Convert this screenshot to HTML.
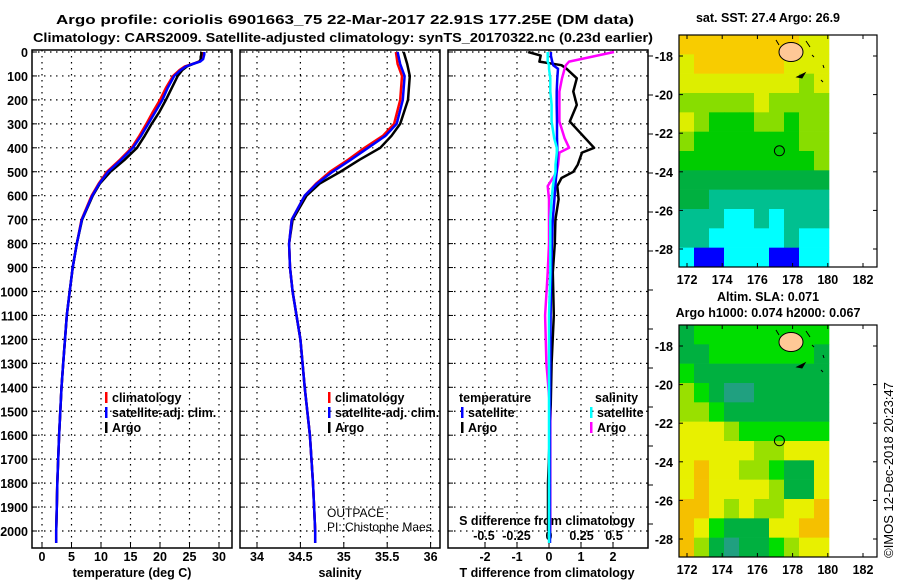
<!DOCTYPE html>
<html><head><meta charset="utf-8"><style>
body{margin:0;background:#fff;width:900px;height:580px;overflow:hidden}
svg text{font-family:"Liberation Sans",sans-serif}
.b{font-weight:bold;font-size:13px}
.t{font-weight:bold;font-size:12.5px}
</style></head><body>
<svg id="c" width="900" height="580" viewBox="0 0 900 580" xmlns="http://www.w3.org/2000/svg">
<text x="345" y="24" text-anchor="middle" class="b" textLength="578" lengthAdjust="spacingAndGlyphs">Argo profile: coriolis 6901663_75 22-Mar-2017 22.91S 177.25E (DM data)</text>
<text x="343" y="42" text-anchor="middle" class="b" textLength="620" lengthAdjust="spacingAndGlyphs">Climatology: CARS2009. Satellite-adjusted climatology: synTS_20170322.nc (0.23d earlier)</text>
<g id="g"></g>
</svg>
<script>
const depths=[0,10,20,30,40,50,60,75,100,150,200,250,300,350,400,450,500,550,600,700,800,900,1000,1100,1200,1300,1400,1500,1600,1700,1800,1900,2000,2050];
const tempClim=[27.2,27.2,27.1,27.0,26.6,25.5,24.2,23.3,22.2,21.0,20.0,18.8,17.7,16.5,15.2,13.2,11.0,9.6,8.4,6.7,5.9,5.2,4.7,4.2,3.9,3.6,3.3,3.1,2.9,2.75,2.6,2.5,2.4,2.4];
const tempSat=[27.5,27.5,27.4,27.3,26.8,25.5,24.4,23.5,22.4,21.3,20.4,19.2,18.0,16.8,15.4,13.4,11.2,9.7,8.5,6.75,5.9,5.2,4.7,4.2,3.9,3.6,3.3,3.1,2.9,2.75,2.6,2.5,2.4,2.4];
const tempArgo=[27.0,27.0,26.9,26.9,26.7,25.6,24.6,23.8,23.0,22.0,21.0,19.9,18.6,17.4,16.1,14.0,11.6,9.8,8.6,6.8,5.9,5.2,4.7,4.2,3.9,3.6,3.3,3.1,2.9,2.75,2.6,2.5,2.4,null];
const salDepths=[0,50,100,200,300,350,400,450,500,550,600,700,800,900,1000,1200,1400,1600,1800,2000,2050];
const salClim=[35.6,35.62,35.67,35.65,35.58,35.45,35.24,35.05,34.84,34.68,34.55,34.40,34.37,34.38,34.41,34.50,34.55,34.61,34.645,34.67,34.67];
const salSat=[35.62,35.65,35.70,35.68,35.61,35.48,35.28,35.08,34.87,34.69,34.55,34.40,34.37,34.38,34.41,34.50,34.55,34.61,34.645,34.67,34.67];
const salArgo=[35.69,35.73,35.76,35.74,35.65,35.55,35.42,35.18,34.96,34.72,34.57,34.41,34.37,34.38,34.41,34.50,34.55,34.61,34.645,34.67,null];
const diffDepths=[0,15,40,55,70,110,165,221,290,360,400,420,470,500,526,560,615,700,800,920,1100,1300,1500,1800,2000,2050];
const tDiffArgo=[-0.65,-0.26,-0.3,0.39,0.55,0.87,0.76,0.87,0.65,1.13,1.41,1.03,0.9,0.76,0.39,0.26,0.3,0.2,0.18,0.12,0.15,0.08,0.05,-0.03,-0.03,null];
const tDiffSat=[0.06,0.06,0.1,0.13,0.28,0.26,0.24,0.24,0.25,0.25,0.26,0.26,0.25,0.24,0.22,0.2,0.17,0.12,0.09,0.07,0.05,0.04,0.03,0.03,0.03,0.03];
const sDiffArgo=[0.5,0.37,0.155,0.13,0.12,0.1,0.08,0.08,0.08,0.12,0.155,0.08,0.07,0.06,0.03,-0.01,0.0,0.0,0.0,-0.01,-0.03,-0.02,0.01,0.01,0.01,null];
const sDiffSat=[-0.01,-0.01,-0.01,0.0,0.0,0.01,0.01,0.02,0.02,0.04,0.06,0.06,0.05,0.05,0.04,0.03,0.02,0.01,0.01,0.01,0.0,0.0,0.0,0.0,0.0,0.0];
const depthTicks=[0,100,200,300,400,500,600,700,800,900,1000,1100,1200,1300,1400,1500,1600,1700,1800,1900,2000];
const tempTicks=[0,5,10,15,20,25,30];
const salTicks=[34,34.5,35,35.5,36];
const tDiffTicks=[-2,-1,0,1,2];
const sDiffTicks=[-0.5,-0.25,0,0.25,0.5];
const sDiffTickLabels=["-0.5","-0.25","0","0.25","0.5"];
const lonTicks=[172,174,176,178,180,182];
const latTicks=[-18,-20,-22,-24,-26,-28];
const sstGrid=[
[7,7,7,7,7,7,7,7,6,6],[6,7,7,7,7,7,7,6,6,6],[6,6,6,6,6,6,6,6,5,6],[5,5,5,5,5,6,5,5,5,5],
[6,5,4,4,4,5,5,4,5,5],[5,4,4,4,4,4,4,4,5,5],[4,4,4,4,4,4,4,4,4,5],[3,3,3,3,3,3,3,3,3,3],
[3,3,2,2,2,2,2,2,2,2],[2,2,2,1,1,2,1,2,2,2],[2,2,1,1,1,1,1,2,1,1],[1,0,0,1,1,1,0,0,1,1]];
const slaGrid=[
[3,4,4,4,4,4,4,4,4,4],[3,3,4,4,4,4,4,4,4,3],[4,3,3,3,3,3,3,3,3,3],[5,4,3,2,2,3,3,3,3,3],
[5,5,4,3,3,3,3,3,3,3],[6,6,6,5,4,4,4,4,4,4],[6,6,6,6,6,5,5,6,6,6],[6,7,6,6,5,5,4,3,3,6],
[6,7,6,6,6,6,5,3,3,6],[7,7,6,5,6,5,5,6,6,7],[7,6,4,3,3,3,6,6,7,7],[7,5,3,2,3,3,4,5,6,6]];
const sstColors=["#0000ff","#00ffff","#00c090","#00b040","#00cc00","#88dd00","#ddee00","#f8cc00"];
const slaColors=["#0000ff","#00ffff","#20a080","#00b040","#00dd00","#99e000","#e8f000","#f5c000"];

const NS="http://www.w3.org/2000/svg",G=document.getElementById('g');
function el(tag,attrs,parent){const e=document.createElementNS(NS,tag);for(const k in attrs)e.setAttribute(k,attrs[k]);(parent||G).appendChild(e);return e;}
function txt(s,x,y,attrs,name){const e=el('text',Object.assign({x:x,y:y},attrs));e.textContent=s;


return e;}
const TOP=50,BOT=548;
const yD=d=>52+d*0.2395;
const panels=[{x0:32,x1:232,f:v=>42+v*5.9},{x0:240,x1:440,f:v=>257+(v-34)*86.8},{x0:448,x1:648,f:v=>549+v*32}];
const fS=v=>549+v*130;
const pNames=['temperature-panel','salinity-panel','difference-panel'];
const gridX=[tempTicks,salTicks,tDiffTicks];
panels.forEach((p,i)=>{
  const g=el('g',{});
  
  
  depthTicks.forEach(d=>{el('line',{x1:p.x0,x2:p.x1,y1:yD(d),y2:yD(d),stroke:'#000','stroke-dasharray':'1.5,4.5','stroke-width':1.2},g);
    el('line',{x1:p.x0,x2:p.x0+5,y1:yD(d),y2:yD(d),stroke:'#000'},g);});
  gridX[i].forEach(v=>{const x=p.f(v);el('line',{x1:x,x2:x,y1:TOP,y2:BOT,stroke:'#000','stroke-dasharray':'1.5,4.5','stroke-width':1.2},g);
    el('line',{x1:x,x2:x,y1:BOT,y2:BOT-5,stroke:'#000'},g);});
  el('rect',{x:p.x0,y:TOP,width:p.x1-p.x0,height:BOT-TOP,fill:'none',stroke:'#000','stroke-width':1.5},g);
});
for(let y=56;y<548;y+=39)el('line',{x1:648,x2:653,y1:y,y2:y,stroke:'#000'});
depthTicks.forEach(d=>txt(String(d),28,yD(d)+5,{class:'t','text-anchor':'end'},'depth-tick-label'));
tempTicks.forEach(v=>txt(String(v),panels[0].f(v),561,{class:'t','text-anchor':'middle'},'temperature-tick-label'));
salTicks.forEach(v=>txt(String(v),panels[1].f(v),561,{class:'t','text-anchor':'middle'},'salinity-tick-label'));
tDiffTicks.forEach(v=>txt(String(v),panels[2].f(v),561,{class:'t','text-anchor':'middle'},'t-diff-tick-label'));
sDiffTicks.forEach((v,i)=>txt(sDiffTickLabels[i],fS(v),540,{class:'t','text-anchor':'middle'},'s-diff-tick-label'));
txt('temperature (deg C)',132,577,{class:'t','text-anchor':'middle'},'x-axis-title-temperature');
txt('salinity',340,577,{class:'t','text-anchor':'middle'},'x-axis-title-salinity');
txt('T difference from climatology',547,577,{class:'t','text-anchor':'middle'},'x-axis-title-t-diff');
txt('S difference from climatology',547,525,{class:'t','text-anchor':'middle'},'s-diff-axis-title');
function line(ds,vals,f,color,name){let s='',pen=false;ds.forEach((d,i)=>{const v=vals[i];if(v==null){pen=false;return;}s+=(pen?'L':'M')+f(v).toFixed(1)+','+yD(d).toFixed(1);pen=true;});
  const e=el('path',{d:s,fill:'none',stroke:color,'stroke-width':2.5,'stroke-linejoin':'round'});
  
  }
line(depths,tempClim,panels[0].f,'#ff0000','temp-climatology-line');
line(depths,tempArgo,panels[0].f,'#000','temp-argo-line');
line(depths,tempSat,panels[0].f,'#0000ff','temp-satellite-line');
line(salDepths,salArgo,panels[1].f,'#000','sal-argo-line');
line(salDepths,salClim,panels[1].f,'#ff0000','sal-climatology-line');
line(salDepths,salSat,panels[1].f,'#0000ff','sal-satellite-line');
line(diffDepths,tDiffArgo,panels[2].f,'#000','t-diff-argo-line');
line(diffDepths,sDiffArgo,fS,'#ff00ff','s-diff-argo-line');
line(diffDepths,tDiffSat,panels[2].f,'#0000ff','t-diff-satellite-line');
line(diffDepths,sDiffSat,fS,'#00ffff','s-diff-satellite-line');
function leg(x,y,color,label){el('rect',{x:x,y:y-10,width:2.5,height:11,fill:color});txt(label,x+7,y,{class:'t'},'legend-entry');}
[[105,'climatology','#f00'],[105,'satellite-adj. clim.','#00f'],[105,'Argo','#000']].forEach((a,i)=>leg(a[0],402+i*15,a[2],a[1]));
[[328,'climatology','#f00'],[328,'satellite-adj. clim.','#00f'],[328,'Argo','#000']].forEach((a,i)=>leg(a[0],402+i*15,a[2],a[1]));
txt('temperature',459,402,{class:'t'},'legend-heading-temperature');
txt('salinity',595,402,{class:'t'},'legend-heading-salinity');
leg(461,417,'#00f','satellite');leg(461,432,'#000','Argo');
leg(590,417,'#0ff','satellite');leg(590,432,'#f0f','Argo');
txt('OUTPACE',327,517,{'font-size':'12px'},'project-label');
txt('PI: Chistophe Maes',327,531,{'font-size':'12px'},'pi-label');
function map(oy,grid,colors,name,titles,ty){
  const g=el('g',{});
  
  
  const X0=679,X1=877,Y0=oy+35,Y1=oy+267;
  const lon=v=>687+(v-172)*17.6, lat=v=>oy+56+(-18-v)*19.3;
  const cw=150/grid[0].length,chh=(Y1-Y0)/grid.length;
  grid.forEach((row,r)=>row.forEach((c,k)=>el('rect',{x:X0+k*cw,y:Y0+r*chh,width:cw+0.3,height:chh+0.3,fill:colors[c]},g)));
  el('ellipse',{cx:791,cy:oy+52,rx:12,ry:9.5,fill:'#ffc896',stroke:'#000','stroke-width':1},g);
  el('path',{d:`M797 ${oy+77}l8 -4l-3 5z M776 ${oy+40}l3 5 M806 ${oy+41}l4 6 M812 ${oy+55}l2 2 M823 ${oy+65}l1 3 M821 ${oy+80}l2 2`,stroke:'#000',fill:'#000'},g);
  el('circle',{cx:lon(177.25),cy:lat(-22.91),r:5,fill:'none',stroke:'#000'},g);
  el('rect',{x:X0,y:Y0,width:X1-X0,height:Y1-Y0,fill:'none',stroke:'#000','stroke-width':1.2},g);
  lonTicks.forEach(v=>{el('line',{x1:lon(v),x2:lon(v),y1:Y1,y2:Y1-4,stroke:'#000'},g);el('line',{x1:lon(v),x2:lon(v),y1:Y0,y2:Y0+4,stroke:'#000'},g);
    txt(String(v),lon(v),oy+284,{class:'t','text-anchor':'middle'},'map-lon-label');});
  latTicks.forEach(v=>{el('line',{x1:X0,x2:X0+4,y1:lat(v),y2:lat(v),stroke:'#000'},g);el('line',{x1:X1,x2:X1-4,y1:lat(v),y2:lat(v),stroke:'#000'},g);
    txt(String(v),673,lat(v)+5,{class:'t','text-anchor':'end'},'map-lat-label');});
  titles.forEach((t,i)=>txt(t,768,ty+i*16,{class:'t','text-anchor':'middle'},'map-title'));
}
map(0,sstGrid,sstColors,'sst-map',['sat. SST: 27.4 Argo: 26.9'],22);
map(290,slaGrid,slaColors,'sla-map',['Altim. SLA: 0.071','Argo h1000: 0.074 h2000: 0.067'],301);
txt('©IMOS 12-Dec-2018 20:23:47',0,0,{'font-size':'13px','text-anchor':'middle',transform:'translate(893,470) rotate(-90)'},'copyright-label');
</script>
</body></html>
